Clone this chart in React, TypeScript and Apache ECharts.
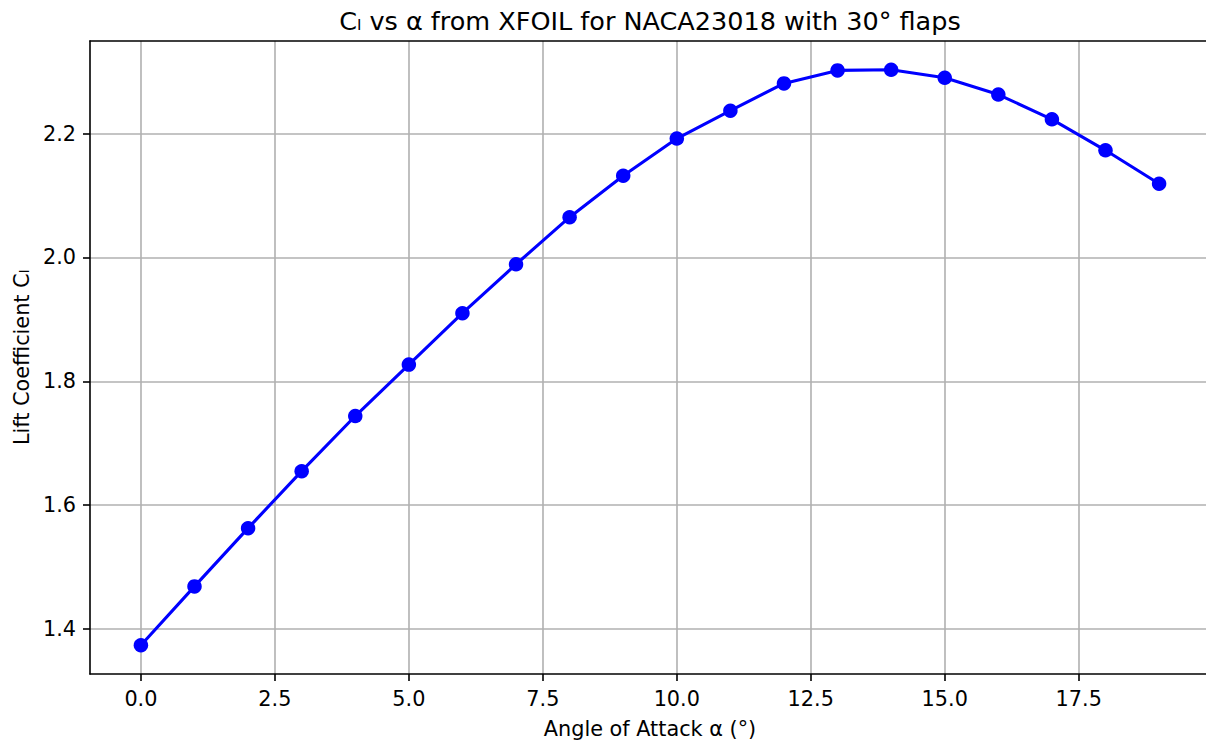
import React, { useEffect, useRef } from "react";
import * as echarts from "echarts";

const alpha = [0, 1, 2, 3, 4, 5, 6, 7, 8, 9, 10, 11, 12, 13, 14, 15, 16, 17, 18, 19];
const cl = [1.374, 1.469, 1.563, 1.655, 1.744, 1.827, 1.910, 1.989, 2.065, 2.132, 2.192, 2.237, 2.281, 2.302, 2.303, 2.290, 2.263, 2.223, 2.173, 2.119];
const xTicks = [0, 2.5, 5, 7.5, 10, 12.5, 15, 17.5];
const yTicks = [1.4, 1.6, 1.8, 2.0, 2.2];

const title = "Cₗ vs α from XFOIL for NACA23018 with 30° flaps";
const xName = "Angle of Attack α (°)";
const yName = "Lift Coefficient Cₗ";

export default function App() {
  const ref = useRef<HTMLDivElement>(null);
  useEffect(() => {
    document.body.style.margin = "0";
    document.body.style.overflow = "hidden";
    if (!ref.current) return;
    const chart = echarts.init(ref.current, undefined, { renderer: "svg" });
    const xMin = Math.min(...alpha), xMax = Math.max(...alpha);
    const yMin = Math.min(...cl), yMax = Math.max(...cl);
    const xm = (xMax - xMin) * 0.05, ym = (yMax - yMin) * 0.05;
    const font = "DejaVu Sans";
    const spine = { color: "#000", width: 1.6 };
    const gridLine = { color: "#b0b0b0", width: 1.6 };
    chart.setOption({
      animation: false,
      backgroundColor: "#ffffff",
      title: {
        text: title,
        left: 650,
        textAlign: "center",
        top: 8,
        padding: 0,
        textStyle: { fontFamily: font, fontSize: 25.5, fontWeight: "normal", color: "#000" },
      },
      grid: {
        left: 90, top: 41, width: 1120, height: 633,
        outerBoundsMode: "none",
        containLabel: false,
        show: false,
      },
      xAxis: [
        {
          type: "value",
          min: xMin - xm,
          max: xMax + xm,
          name: xName,
          nameLocation: "middle",
          nameGap: 44,
          nameTextStyle: { fontFamily: font, fontSize: 20.8, color: "#000" },
          axisLine: { show: true, onZero: false, lineStyle: spine },
          axisTick: { show: true, length: 7, customValues: xTicks, lineStyle: spine },
          axisLabel: {
            customValues: xTicks,
            margin: 14,
            fontFamily: font, fontSize: 20.8, color: "#000",
            formatter: (v: number) => v.toFixed(1),
          },
          splitLine: { show: true, lineStyle: gridLine },
          z: 1,
        },
        {
          type: "value",
          position: "top",
          min: xMin - xm,
          max: xMax + xm,
          axisLine: { show: true, onZero: false, lineStyle: spine },
          axisTick: { show: false },
          axisLabel: { show: false },
          splitLine: { show: false },
          z: 2,
        },
      ],
      yAxis: {
        type: "value",
        min: yMin - ym,
        max: yMax + ym,
        name: yName,
        nameLocation: "middle",
        nameGap: 57,
        nameTextStyle: { fontFamily: font, fontSize: 20.8, color: "#000" },
        axisLine: { show: true, onZero: false, lineStyle: spine },
        axisTick: { show: true, length: 7, customValues: yTicks, lineStyle: spine },
        axisLabel: {
          customValues: yTicks,
          margin: 14,
          fontFamily: font, fontSize: 20.8, color: "#000",
          formatter: (v: number) => v.toFixed(1),
        },
        splitLine: { show: true, lineStyle: gridLine },
        z: 2,
      },
      series: [
        {
          type: "line",
          xAxisIndex: 0,
          data: alpha.map((a, i) => [a, cl[i]]),
          symbol: "circle",
          symbolSize: 14.5,
          showAllSymbol: true,
          lineStyle: { color: "#0000ff", width: 3.1 },
          itemStyle: { color: "#0000ff" },
          z: 3,
        },
      ],
    });
    return () => chart.dispose();
  }, []);
  return (
    <div
      ref={ref}
      style={{ position: "fixed", left: 0, top: 0, width: 1206, height: 742, background: "#fff" }}
    />
  );
}
